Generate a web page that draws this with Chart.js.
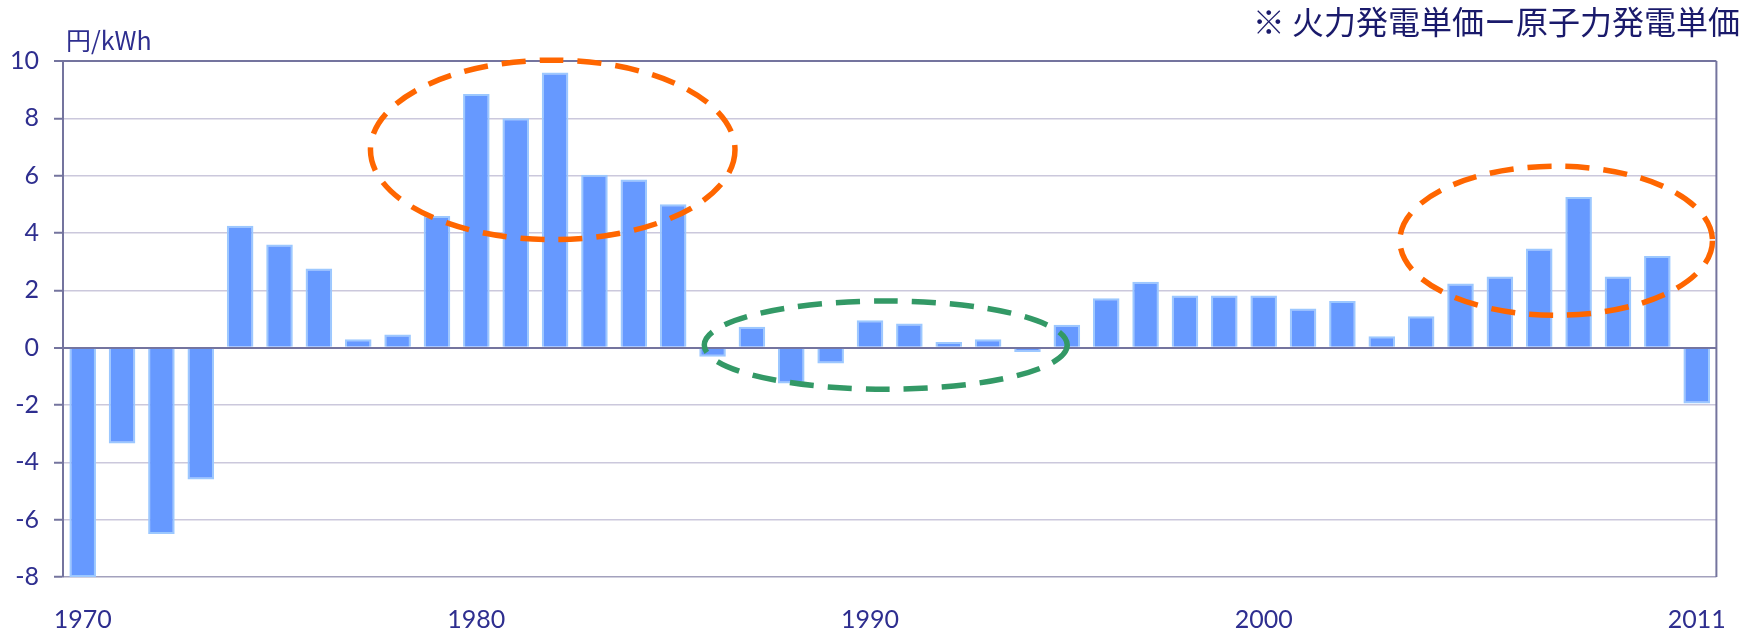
<!DOCTYPE html>
<html>
<head>
<meta charset="utf-8">
<script src="https://cdn.jsdelivr.net/npm/chart.js@4/dist/chart.umd.min.js"></script>
<style>
  html, body { margin: 0; padding: 0; background: #ffffff; }
  #wrap { width: 1754px; height: 634px; position: relative; }
</style>
</head>
<body>
<div id="wrap"><canvas id="c"></canvas></div>
<script>
// Fiscal years shown on the category axis
const years = [
  1970, 1971, 1972, 1973, 1974, 1975, 1976, 1977, 1978, 1979,
  1980, 1981, 1982, 1983, 1984, 1985, 1986, 1987, 1988, 1989,
  1990, 1991, 1992, 1993, 1994, 1995, 1996, 1997, 1998, 1999,
  2000, 2001, 2002, 2003, 2004, 2005, 2006, 2007, 2008, 2009,
  2010, 2011
];

// Thermal minus nuclear generation unit cost (円/kWh)
const costGap = [
  -8.0, -3.34, -6.5, -4.6, 4.25, 3.6, 2.76, 0.29, 0.46, 4.59,
  8.85, 8.0, 9.6, 6.03, 5.87, 5.0, -0.32, 0.73, -1.25, -0.55,
  0.96, 0.84, 0.2, 0.29, -0.15, 0.8, 1.72, 2.3, 1.82, 1.82,
  1.82, 1.37, 1.63, 0.4, 1.1, 2.24, 2.48, 3.46, 5.26, 2.48,
  3.2, -1.95
];

// Only these years get a label on the category axis
const xTickLabels = ['1970', '1980', '1990', '2000', '2011'];

// Value axis ticks
const yMin = -8;
const yMax = 10;
const yStep = 2;

// Highlight rings: centre (category index, value) and radii (categories, value units)
const rings = [
  { cx: 11.94, cy: 6.9,  rx: 4.63, ry: 3.13, color: '#ff6600' },
  { cx: 20.4,  cy: 0.09, rx: 4.61, ry: 1.54, color: '#339966' },
  { cx: 37.43, cy: 3.73, rx: 3.97, ry: 2.6,  color: '#ff6600' }
];

const titleText = '※ 火力発電単価ー原子力発電単価';
const unitText = '円/kWh';

const navy = '#2e2e8f';
const axisDark = '#74749e';

const decorPlugin = {
  id: 'decor',
  afterDatasetsDraw(chart) {
    const { ctx, chartArea, scales } = chart;
    const xs = scales.x, ys = scales.y;
    const perCat = xs.getPixelForValue(1) - xs.getPixelForValue(0);
    const perUnit = ys.getPixelForValue(0) - ys.getPixelForValue(1);
    ctx.save();
    // right frame edge
    ctx.strokeStyle = axisDark;
    ctx.lineWidth = 2;
    ctx.beginPath();
    ctx.moveTo(chartArea.right, chartArea.top);
    ctx.lineTo(chartArea.right, chartArea.bottom);
    ctx.stroke();
    // dashed highlight rings
    ctx.lineWidth = 5.5;
    ctx.setLineDash([24, 14]);
    ctx.lineCap = 'butt';
    rings.forEach(r => {
      ctx.strokeStyle = r.color;
      ctx.beginPath();
      ctx.ellipse(xs.getPixelForValue(r.cx), ys.getPixelForValue(r.cy),
                  r.rx * perCat, r.ry * perUnit, 0, 0, Math.PI * 2);
      ctx.stroke();
    });
    ctx.restore();
  },
  afterDraw(chart) {
    const { ctx } = chart;
    ctx.save();
    ctx.fillStyle = '#1a1a6b';
    ctx.font = '32px "Noto Sans CJK JP"';
    ctx.textAlign = 'right';
    ctx.textBaseline = 'middle';
    ctx.fillText(titleText, 1740, 22);
    ctx.fillStyle = navy;
    ctx.font = '25px "Noto Sans CJK JP"';
    ctx.textAlign = 'left';
    ctx.fillText(unitText, 66, 40);
    ctx.restore();
  }
};

new Chart(document.getElementById('c'), {
  type: 'bar',
  data: {
    labels: years.map(String),
    datasets: [{
      data: costGap,
      backgroundColor: '#6699ff',
      borderColor: '#9cc8ff',
      borderWidth: 2,
      categoryPercentage: 1.0,
      barPercentage: 0.675
    }]
  },
  options: {
    responsive: true,
    maintainAspectRatio: false,
    animation: false,
    layout: { padding: { top: 61, right: 24, left: 0, bottom: 0 } },
    plugins: {
      legend: { display: false },
      tooltip: { enabled: false }
    },
    scales: {
      x: {
        offset: true,
        grid: { display: false, drawTicks: false },
        border: { display: false },
        ticks: {
          autoSkip: false,
          maxRotation: 0,
          padding: 28,
          color: navy,
          font: { family: 'Lato', size: 25 },
          callback(value) {
            const lab = this.getLabelForValue(value);
            return xTickLabels.includes(lab) ? lab : '';
          }
        },
        afterFit(s) { s.height = 57; }
      },
      y: {
        min: yMin,
        max: yMax,
        ticks: {
          stepSize: yStep,
          padding: 15,
          color: navy,
          font: { family: 'Lato', size: 25 }
        },
        grid: {
          color(ctx) {
            const v = ctx.tick && ctx.tick.value;
            if (v === 0 || v === yMax) return axisDark;
            if (v === yMin) return '#a3a1bd';
            return '#cbc8dc';
          },
          lineWidth(ctx) {
            const v = ctx.tick && ctx.tick.value;
            return (v === 0 || v === yMax) ? 2 : 1.5;
          },
          tickLength: 9,
          tickColor: axisDark,
          tickWidth: 2
        },
        border: { color: axisDark, width: 2 },
        afterFit(s) { s.width = 63; }
      }
    }
  },
  plugins: [decorPlugin]
});
</script>
</body>
</html>
